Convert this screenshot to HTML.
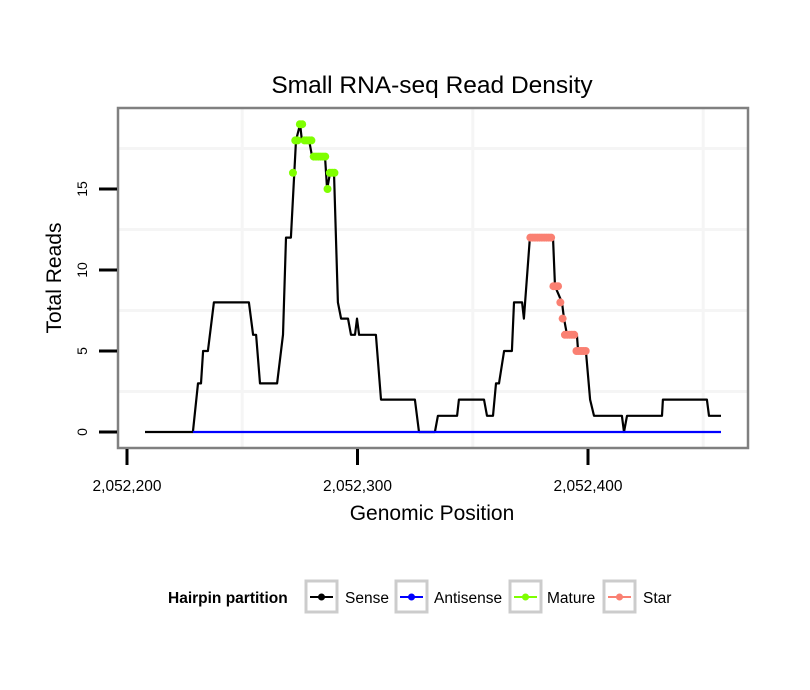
<!DOCTYPE html>
<html><head><meta charset="utf-8">
<style>
body{margin:0;background:#fff;}
svg{display:block;font-family:"Liberation Sans",sans-serif;}
</style></head>
<body>
<svg id="chart" width="810" height="690" viewBox="0 0 810 690">
<text x="432" y="93" text-anchor="middle" font-size="24.5" fill="#000">Small RNA-seq Read Density</text>
<rect x="118" y="108" width="630" height="340" fill="#fff"/>
<g id="grid"></g>
<g id="series"></g>
<rect x="118" y="108" width="630" height="340" fill="none" stroke="#808080" stroke-width="2.5"/>
<g id="axes"></g>
<text x="432" y="520" text-anchor="middle" font-size="21">Genomic Position</text>
<text transform="translate(61,278) rotate(-90)" text-anchor="middle" font-size="21">Total Reads</text>
<g>
<text x="168" y="603" font-size="15.5" font-weight="bold">Hairpin partition</text>
<g>
<rect x="306" y="581" width="31" height="31" fill="#fff" stroke="#ccc" stroke-width="3"/>
<line x1="310" y1="597" x2="333" y2="597" stroke="#000" stroke-width="2"/><circle cx="321.5" cy="597" r="3.5" fill="#000"/>
<text x="345" y="603" font-size="15.5">Sense</text></g>
<g>
<rect x="396" y="581" width="31" height="31" fill="#fff" stroke="#ccc" stroke-width="3"/>
<line x1="400" y1="597" x2="423" y2="597" stroke="#0000ff" stroke-width="2"/><circle cx="411.5" cy="597" r="3.5" fill="#0000ff"/>
<text x="434" y="603" font-size="15.5">Antisense</text></g>
<g>
<rect x="510" y="581" width="31" height="31" fill="#fff" stroke="#ccc" stroke-width="3"/>
<line x1="514" y1="597" x2="537" y2="597" stroke="#7fff00" stroke-width="2"/><circle cx="525.5" cy="597" r="3.5" fill="#7fff00"/>
<text x="547" y="603" font-size="15.5">Mature</text></g>
<g>
<rect x="604" y="581" width="31" height="31" fill="#fff" stroke="#ccc" stroke-width="3"/>
<line x1="608" y1="597" x2="631" y2="597" stroke="#fa8072" stroke-width="2"/><circle cx="619.5" cy="597" r="3.5" fill="#fa8072"/>
<text x="643" y="603" font-size="15.5">Star</text></g>
</g>
</svg>
<script>
const xBase = 2052200;
const senseOffsets = [7.8,28.6,30.8,32.1,33,35.1,37.7,52.9,54.7,56,57.7,65.1,67.7,69,71.1,73.3,75.1,75.9,79,80.3,85.9,86.8,88.1,89.8,91.5,92.9,95.9,97.2,98.9,99.8,100.7,108,110.2,124.9,126.7,133.6,134.9,143.2,144,154.9,156.2,158.8,160.1,161.4,163.6,167,167.9,171.4,172.2,174.8,184.8,185.7,188.7,189.6,190.9,195.2,195.7,199.1,200.9,202.6,214.7,215.6,216.9,232.1,232.5,251.6,252.5,257.7];
const senseValues = [0,0,3,3,5,5,8,8,6,6,3,3,6,12,12,18,19,18,18,17,17,15,16,16,8,7,7,6,6,7,6,6,2,2,0,0,1,1,2,2,1,1,3,3,5,5,8,8,7,12,12,9,8,7,6,6,5,5,2,1,1,0,1,1,2,2,1,1];
const antisenseOffsets = [28.6,257.7];
const antisenseValues = [0,0];
const matureOffsets = [72,73,74,75,76,77,78,79,80,81,82,83,84,85,86,87,88,89,90];
const matureValues = [16,18,18,19,19,18,18,18,18,17,17,17,17,17,17,15,16,16,16];
const starOffsets = [175,176,177,178,179,180,181,182,183,184,185,186,187,188,189,190,191,192,193,194,195,196,197,198,199];
const starValues = [12,12,12,12,12,12,12,12,12,12,9,9,9,8,7,6,6,6,6,6,5,5,5,5,5];
const xTicks = [2052200,2052300,2052400];
const xTickLabels = ["2,052,200","2,052,300","2,052,400"];
const yTicks = [0,5,10,15];
const xGrid = [2052250,2052350,2052450];
const yGrid = [2.5,7.5,12.5,17.5];

const NS='http://www.w3.org/2000/svg';
function X(p){return 127 + (p - xBase) * 2.305;}
function Y(v){return 432 - v * 16.2;}
function mk(tag, attrs, parent){const e=document.createElementNS(NS,tag);for(const k in attrs)e.setAttribute(k,attrs[k]);parent.appendChild(e);return e;}
const grid=document.getElementById('grid'), series=document.getElementById('series'), axes=document.getElementById('axes');
xGrid.forEach(p=>{const l=mk('line',{x1:X(p),x2:X(p),y1:109,y2:447,stroke:'#f5f5f5','stroke-width':3},grid);

});
yGrid.forEach(v=>{const l=mk('line',{x1:119,x2:747,y1:Y(v),y2:Y(v),stroke:'#f5f5f5','stroke-width':3},grid);

});
function pathOf(offs, vals){return offs.map((o,i)=>(i?'L':'M')+X(xBase+o).toFixed(1)+','+Y(vals[i]).toFixed(1)).join(' ');}
const sp=mk('path',{d:pathOf(senseOffsets,senseValues),fill:'none',stroke:'#000','stroke-width':2.2,'stroke-linejoin':'round'},series);


const ap=mk('path',{d:pathOf(antisenseOffsets,antisenseValues),fill:'none',stroke:'#0000ff','stroke-width':2.2},series);


function dots(offs, vals, color, name){
  offs.forEach((o,i)=>{const c=mk('circle',{cx:X(xBase+o),cy:Y(vals[i]),r:4,fill:color},series);
  
  });
}
dots(matureOffsets,matureValues,'#7fff00','mature-point');
dots(starOffsets,starValues,'#fa8072','star-point');
xTicks.forEach((p,i)=>{
  const t=mk('line',{x1:X(p),x2:X(p),y1:449,y2:465,stroke:'#000','stroke-width':3},axes);
  
  
  const tx=mk('text',{x:X(p),y:491,'text-anchor':'middle','font-size':15.5},axes);
  tx.textContent=xTickLabels[i];
  
  
});
yTicks.forEach(v=>{
  const t=mk('line',{x1:99,x2:117,y1:Y(v),y2:Y(v),stroke:'#000','stroke-width':3},axes);
  
  
  const tx=mk('text',{transform:'translate(87,'+Y(v)+') rotate(-90)','text-anchor':'middle','font-size':14},axes);
  tx.textContent=String(v);
  
  
});
</script>
</body></html>
